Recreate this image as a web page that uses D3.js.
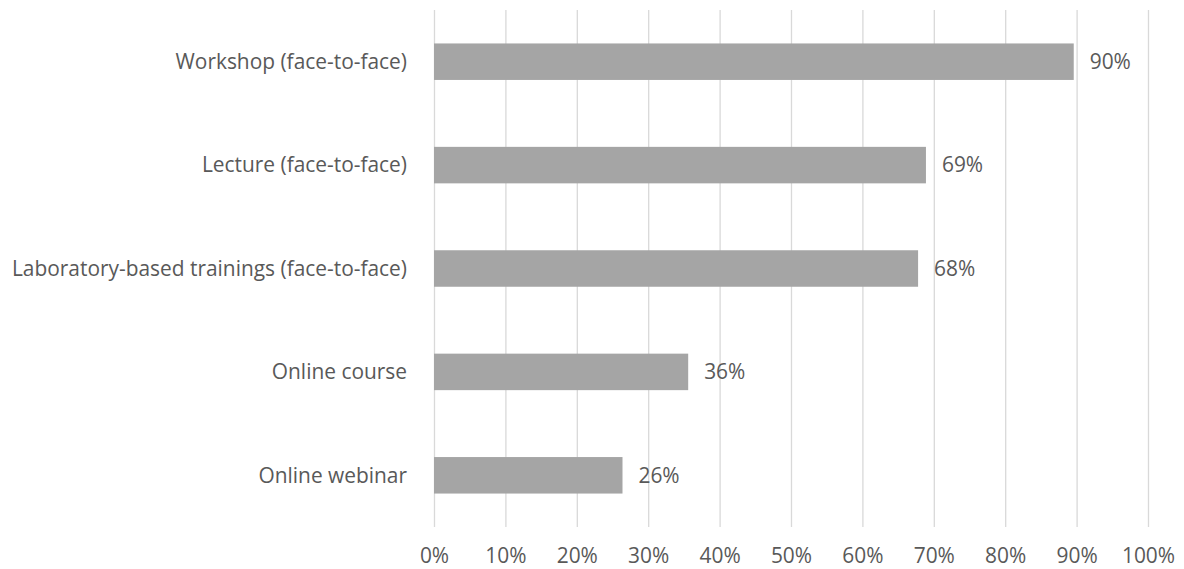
<!DOCTYPE html>
<html>
<head>
<meta charset="utf-8">
<script src="https://cdn.jsdelivr.net/npm/d3@7"></script>
<style>
    body { margin: 0; background: #fff; }
    svg text { font-family: "Open Sans", sans-serif; fill: #595959; }
</style>
</head>
<body>
<div id="chart"></div>
<script>
    // 数据
    const categories = [
        'Workshop (face-to-face)',
        'Lecture (face-to-face)',
        'Laboratory-based trainings (face-to-face)',
        'Online course',
        'Online webinar'
    ];
    const values = [0.896, 0.689, 0.678, 0.356, 0.264];
    const tickValues = [0, 0.1, 0.2, 0.3, 0.4, 0.5, 0.6, 0.7, 0.8, 0.9, 1];

    const width = 1184, height = 569;
    const margin = { top: 10, right: 36, bottom: 42, left: 434 };
    const innerW = width - margin.left - margin.right;
    const innerH = height - margin.top - margin.bottom;
    const fontSize = '20.9px';

    const svg = d3.select('#chart')
        .append('svg')
        .attr('width', width)
        .attr('height', height);

    const g = svg.append('g')
        .attr('transform', `translate(${margin.left},${margin.top})`);

    const x = d3.scaleLinear().domain([0, 1]).range([0, innerW]);
    const y = d3.scaleBand().domain(categories).range([0, innerH]).paddingInner(0.647).paddingOuter(0.3235);

    // 网格线 + 刻度
    const xAxis = g.append('g')
        .attr('transform', `translate(0,${innerH})`)
        .call(d3.axisBottom(x).tickValues(tickValues).tickFormat(d3.format('.0%')).tickSize(-innerH).tickPadding(0));
    xAxis.select('.domain').remove();
    xAxis.selectAll('line').attr('stroke', '#d9d9d9').attr('stroke-width', 1.3);
    xAxis.selectAll('text')
        .attr('y', 29)
        .attr('dy', '0.35em')
        .style('font-size', fontSize);

    // 柱子
    g.selectAll('.bar')
        .data(values)
        .enter().append('rect')
        .attr('class', 'bar')
        .attr('x', 0)
        .attr('y', (d, i) => y(categories[i]))
        .attr('width', d => x(d))
        .attr('height', y.bandwidth())
        .attr('fill', '#a5a5a5');

    // 数值标签
    g.selectAll('.val')
        .data(values)
        .enter().append('text')
        .attr('class', 'val')
        .attr('x', d => x(d) + 16)
        .attr('y', (d, i) => y(categories[i]) + y.bandwidth() / 2)
        .attr('dy', '0.35em')
        .style('font-size', fontSize)
        .text(d => d3.format('.0%')(d));

    // 分类标签
    g.selectAll('.cat')
        .data(categories)
        .enter().append('text')
        .attr('class', 'cat')
        .attr('x', -27)
        .attr('y', d => y(d) + y.bandwidth() / 2)
        .attr('dy', '0.35em')
        .attr('text-anchor', 'end')
        .style('font-size', fontSize)
        .text(d => d);
</script>
</body>
</html>
